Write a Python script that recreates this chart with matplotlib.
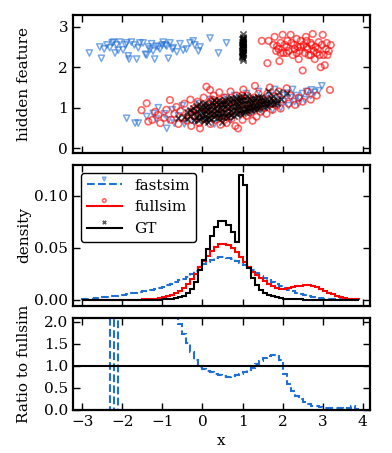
import numpy as np
import matplotlib
matplotlib.use("Agg")
import matplotlib.pyplot as plt

plt.rcParams["font.family"] = "serif"
plt.rcParams["font.serif"] = ["DejaVu Serif"]

BLUE = "#1f6fd6"

# histogram bins: -3.0 ... 3.9, width 0.1
edges = np.round(np.arange(-3.0, 3.95, 0.1), 2)

fastsim_density = [
    0.0005, 0.001, 0.001, 0.0015, 0.002, 0.002, 0.0025, 0.003, 0.0035, 0.004,
    0.0045, 0.005, 0.006, 0.0065, 0.007, 0.008, 0.009, 0.0095, 0.0105, 0.0115,
    0.0125, 0.014, 0.0155, 0.017, 0.0185, 0.02, 0.022, 0.025, 0.028, 0.031,
    0.034, 0.036, 0.038, 0.040, 0.041, 0.041, 0.040, 0.039, 0.037, 0.035,
    0.033, 0.031, 0.029, 0.026, 0.023, 0.021, 0.019, 0.017, 0.015, 0.013,
    0.011, 0.0095, 0.008, 0.0065, 0.005, 0.004, 0.003, 0.0025, 0.002, 0.0015,
    0.001, 0.0008, 0.0006, 0.0005, 0.0004, 0.0003, 0.0002, 0.0002, 0.0001,
]
fullsim_density = [
    0.0, 0.0, 0.0, 0.0, 0.0, 0.0, 0.0, 0.0, 0.0, 0.0,
    0.0, 0.0, 0.0, 0.0, 0.0, 0.0003, 0.0005, 0.0008, 0.001, 0.0015,
    0.002, 0.003, 0.0045, 0.006, 0.008, 0.011, 0.015, 0.02, 0.025, 0.031,
    0.037, 0.042, 0.047, 0.051, 0.054, 0.054, 0.053, 0.050, 0.046, 0.041,
    0.036, 0.031, 0.027, 0.024, 0.021, 0.018, 0.015, 0.013, 0.011, 0.0105,
    0.0105, 0.011, 0.012, 0.013, 0.0135, 0.014, 0.014, 0.0135, 0.012, 0.0105,
    0.0085, 0.0065, 0.005, 0.0035, 0.0025, 0.0015, 0.001, 0.0005, 0.0002,
]
gt_density = [
    0.0, 0.0, 0.0, 0.0, 0.0, 0.0, 0.0, 0.0, 0.0, 0.0,
    0.0, 0.0, 0.0, 0.0, 0.0, 0.0, 0.0, 0.0, 0.0, 0.0,
    0.0002, 0.0004, 0.0007, 0.0012, 0.002, 0.0035, 0.006, 0.01, 0.017, 0.029,
    0.038, 0.049, 0.061, 0.070, 0.076, 0.076, 0.072, 0.065, 0.056, 0.120,
    0.111, 0.030, 0.021, 0.014, 0.0095, 0.0065, 0.0045, 0.003, 0.002, 0.0012,
    0.0008, 0.0005, 0.0003, 0.0001, 0.0001, 0.0, 0.0, 0.0, 0.0, 0.0,
    0.0, 0.0, 0.0, 0.0, 0.0, 0.0, 0.0, 0.0, 0.0,
]
nan = np.nan
ratio_fast_full = [
    nan, nan, nan, nan, nan, nan, 0.0, 30.0, 0.0, 30.0,
    20.0, 15.0, 12.0, 10.0, 9.0, 8.0, 7.5, 6.5, 5.5, 4.5,
    4.0, 3.5, 3.0, 2.6, 1.95, 1.72, 1.52, 1.32, 1.12, 0.98,
    0.93, 0.89, 0.85, 0.81, 0.78, 0.76, 0.75, 0.76, 0.78, 0.81,
    0.85, 0.90, 0.96, 1.03, 1.10, 1.18, 1.23, 1.25, 1.24, 1.12,
    0.82, 0.58, 0.43, 0.32, 0.24, 0.18, 0.13, 0.10, 0.08, 0.06,
    0.05, 0.045, 0.04, 0.035, 0.035, 0.03, 0.04, 0.09, 0.03,
]

# hidden feature scatter (x, hidden)
fast_upper = np.array([
    (-2.82, 2.35), (-2.56, 2.5), (-2.52, 2.22), (-2.45, 2.45), (-2.38, 2.55),
    (-2.31, 2.48), (-2.25, 2.6), (-2.22, 2.62), (-2.18, 2.35), (-2.14, 2.55),
    (-2.1, 2.42), (-2.06, 2.62), (-1.98, 2.43), (-1.92, 2.55), (-1.89, 2.6),
    (-1.85, 2.28), (-1.83, 2.2), (-1.77, 2.62), (-1.7, 2.55), (-1.64, 2.2),
    (-1.6, 2.48), (-1.56, 2.6), (-1.48, 2.6), (-1.42, 2.32), (-1.39, 2.3),
    (-1.35, 2.5), (-1.3, 2.45), (-1.27, 2.58), (-1.23, 2.4), (-1.19, 2.2),
    (-1.15, 2.52), (-1.1, 2.5), (-1.06, 2.45), (-1.0, 2.55), (-0.98, 2.62),
    (-0.92, 2.55), (-0.89, 2.52), (-0.85, 2.22), (-0.81, 2.6), (-0.75, 2.45),
    (-0.73, 2.48), (-0.64, 2.38), (-0.56, 2.58), (-0.48, 2.42), (-0.4, 2.45),
    (-0.31, 2.6), (-0.23, 2.65), (-0.19, 2.55), (-0.1, 2.4), (-0.06, 2.5),
    (0.19, 2.72), (0.4, 2.35), (0.6, 2.6),
])
fast_lower = np.array([
    (-1.89, 0.74), (-1.68, 0.62), (-1.6, 0.62), (-1.39, 0.78), (-1.23, 0.86),
    (-1.15, 0.72), (-1.1, 1.0), (-0.95, 0.85), (-0.89, 0.49), (-0.85, 0.7),
    (-0.75, 0.95), (-0.7, 0.62), (-0.6, 0.8), (-0.5, 1.05), (-0.45, 0.6),
    (-0.3, 0.9), (-0.2, 0.65), (-0.1, 1.1), (0.0, 0.8), (0.1, 0.68),
    (0.2, 1.2), (0.3, 0.6), (0.45, 0.75), (0.6, 1.25), (0.7, 0.7),
    (0.8, 1.3), (0.95, 0.8), (1.1, 1.35), (1.2, 0.85), (1.3, 0.95),
    (1.4, 1.4), (1.5, 0.9), (1.6, 1.05), (1.7, 1.3), (1.75, 0.95),
    (1.8, 1.45), (1.85, 1.1), (1.9, 1.2), (1.95, 1.0), (2.0, 1.3),
    (2.05, 1.15), (2.1, 1.36), (2.15, 1.05), (2.2, 1.25), (2.25, 1.45),
    (2.3, 1.15), (2.35, 1.3), (2.43, 1.23), (2.5, 1.35), (2.55, 1.2),
    (2.6, 1.4), (2.7, 1.3), (2.72, 1.44), (2.8, 1.38), (2.9, 1.42),
    (2.98, 1.54), (1.55, 1.22), (1.25, 1.18), (2.4, 1.1),
])
full_upper = np.array([
    (1.48, 2.65), (1.65, 2.65), (1.62, 2.1), (1.77, 2.55), (1.8, 2.75),
    (1.84, 2.4), (1.86, 2.52), (1.9, 2.45), (1.92, 2.15), (1.95, 2.6),
    (2.0, 2.8), (2.02, 2.35), (2.05, 2.55), (2.1, 2.5), (2.12, 2.65),
    (2.15, 2.4), (2.2, 2.8), (2.22, 2.6), (2.25, 2.3), (2.28, 2.55),
    (2.3, 2.45), (2.35, 2.7), (2.38, 2.5), (2.4, 2.2), (2.42, 2.4),
    (2.45, 2.65), (2.5, 1.92), (2.52, 2.55), (2.55, 2.35), (2.58, 2.75),
    (2.6, 2.5), (2.62, 2.45), (2.65, 2.3), (2.7, 2.6), (2.72, 2.55),
    (2.75, 2.82), (2.78, 2.4), (2.8, 2.2), (2.82, 2.5), (2.85, 2.35),
    (2.9, 2.62), (2.92, 2.3), (2.95, 2.0), (2.98, 2.55), (3.0, 2.8),
    (3.02, 2.3), (3.05, 2.05), (3.08, 2.45), (3.1, 2.6), (3.15, 2.4),
    (3.2, 2.55), (2.35, 2.35), (2.6, 2.65), (2.7, 2.3), (2.1, 2.35),
    (1.95, 2.35), (2.45, 2.5), (2.88, 2.45), (3.12, 2.3),
])
full_lower = np.array([
    (-1.52, 0.94), (-1.39, 1.11), (-1.35, 0.66), (-1.25, 0.7), (-1.18, 0.9),
    (-1.1, 0.82), (-1.05, 0.62), (-0.95, 0.75), (-0.9, 0.95), (-0.81, 1.19),
    (-0.78, 0.7), (-0.7, 0.85), (-0.65, 1.02), (-0.6, 0.6), (-0.55, 0.92),
    (-0.5, 0.75), (-0.45, 1.1), (-0.4, 0.68), (-0.35, 0.88), (-0.3, 1.2),
    (-0.28, 0.55), (-0.22, 0.98), (-0.18, 0.78), (-0.12, 1.15), (-0.08, 0.62),
    (-0.06, 0.49), (-0.02, 0.9), (0.03, 1.25), (0.05, 0.72), (0.1, 1.52),
    (0.12, 0.85), (0.15, 1.05), (0.19, 1.44), (0.2, 0.6), (0.25, 0.95),
    (0.28, 1.3), (0.32, 0.7), (0.35, 1.12), (0.4, 0.82), (0.42, 1.38),
    (0.45, 0.58), (0.5, 1.0), (0.55, 1.25), (0.6, 0.62), (0.62, 0.88),
    (0.66, 1.15), (0.7, 1.4), (0.72, 0.72), (0.78, 1.05), (0.82, 0.55),
    (0.85, 1.3), (0.89, 0.49), (0.92, 0.9), (0.95, 1.2), (1.0, 0.7),
    (1.02, 1.45), (1.05, 1.0), (1.1, 0.8), (1.12, 1.3), (1.18, 0.95),
    (1.22, 1.15), (1.25, 0.68), (1.31, 1.54), (1.32, 1.05), (1.35, 0.78),
    (1.4, 1.35), (1.45, 0.9), (1.5, 1.2), (1.55, 1.0), (1.6, 0.85),
    (1.62, 1.35), (1.68, 1.5), (1.7, 1.1), (1.75, 0.95), (1.8, 1.28),
    (1.85, 1.05), (1.9, 1.4), (1.95, 0.98), (2.0, 1.2), (2.1, 1.48),
    (2.15, 1.1), (2.2, 1.3), (2.31, 1.07), (2.4, 1.25), (2.5, 1.15),
    (2.62, 1.4), (2.7, 1.2), (2.85, 1.3), (3.18, 1.44), (0.0, 1.0),
    (0.1, 0.95), (0.2, 1.15), (0.3, 0.88), (0.45, 1.2), (0.52, 0.8),
    (0.6, 1.05), (0.75, 0.92), (0.88, 1.12), (1.0, 0.95), (1.08, 1.22),
    (1.2, 0.88), (1.28, 1.25), (1.38, 1.0), (1.48, 1.1), (-0.15, 0.95),
    (-0.25, 0.82), (0.38, 1.0), (0.68, 0.78), (0.98, 1.3), (1.15, 1.05),
    (1.42, 1.2), (0.25, 1.2), (0.55, 0.7),
])
gt_column = np.array([
    (1.0, 2.22), (0.99, 2.28), (1.01, 2.32), (1.0, 2.36), (0.98, 2.4),
    (1.02, 2.42), (1.0, 2.45), (0.99, 2.48), (1.01, 2.5), (1.0, 2.52),
    (0.98, 2.55), (1.02, 2.57), (1.0, 2.6), (0.99, 2.62), (1.01, 2.65),
    (1.0, 2.68), (0.98, 2.7), (1.02, 2.72), (1.0, 2.75), (1.0, 2.82),
    (0.99, 2.3), (1.01, 2.38), (1.0, 2.43), (0.99, 2.53), (1.01, 2.58),
    (1.0, 2.63), (1.02, 2.47), (0.98, 2.35), (1.0, 2.5), (1.01, 2.7),
    (0.99, 2.25), (1.0, 2.18),
])
gt_cluster = np.array([
    (-0.45, 0.78), (-0.38, 0.9), (-0.38, 0.72), (-0.3, 0.8), (-0.31, 0.95),
    (-0.22, 0.7), (-0.2, 0.88), (-0.24, 1.0), (-0.15, 0.78), (-0.14, 0.93),
    (-0.16, 1.05), (-0.12, 0.7), (-0.08, 0.82), (-0.07, 0.98), (-0.06, 0.72),
    (-0.09, 1.08), (0.0, 0.76), (0.01, 0.87), (0.0, 0.97), (0.02, 1.1),
    (0.03, 0.68), (0.07, 0.8), (0.08, 0.92), (0.06, 1.02), (0.09, 0.72),
    (0.07, 1.12), (0.14, 0.84), (0.15, 0.95), (0.13, 1.05), (0.16, 0.75),
    (0.14, 0.66), (0.21, 0.82), (0.22, 0.93), (0.2, 1.04), (0.23, 1.14),
    (0.21, 0.72), (0.28, 0.86), (0.29, 0.97), (0.27, 1.07), (0.3, 0.76),
    (0.28, 1.18), (0.35, 0.84), (0.36, 0.95), (0.34, 1.05), (0.37, 0.74),
    (0.35, 1.15), (0.42, 0.88), (0.43, 0.99), (0.41, 1.09), (0.44, 0.78),
    (0.42, 1.2), (0.49, 0.86), (0.5, 0.97), (0.48, 1.08), (0.51, 0.76),
    (0.49, 1.17), (0.5, 0.66), (0.56, 0.9), (0.57, 1.01), (0.55, 1.1),
    (0.58, 0.8), (0.56, 1.2), (0.63, 0.88), (0.64, 1.0), (0.62, 1.1),
    (0.65, 0.78), (0.63, 1.22), (0.7, 0.92), (0.71, 1.03), (0.69, 1.13),
    (0.72, 0.82), (0.7, 1.24), (0.77, 0.9), (0.78, 1.01), (0.76, 1.12),
    (0.79, 0.8), (0.77, 1.22), (0.84, 0.94), (0.85, 1.05), (0.83, 1.15),
    (0.86, 0.84), (0.84, 1.25), (0.91, 0.95), (0.92, 1.07), (0.9, 1.17),
    (0.93, 0.86), (0.91, 1.27), (0.98, 0.97), (0.99, 1.08), (0.97, 1.18),
    (1.0, 0.88), (0.98, 1.28), (1.05, 0.98), (1.06, 1.09), (1.04, 1.19),
    (1.07, 0.9), (1.12, 1.0), (1.13, 1.1), (1.11, 1.2), (1.14, 0.92),
    (1.12, 1.3), (1.19, 1.02), (1.2, 1.12), (1.18, 1.22), (1.21, 0.94),
    (1.26, 1.03), (1.27, 1.14), (1.25, 1.24), (1.28, 0.96), (1.33, 1.05),
    (1.34, 1.15), (1.32, 1.25), (1.35, 0.98), (1.4, 1.06), (1.41, 1.16),
    (1.39, 1.26), (1.42, 1.0), (1.47, 1.08), (1.48, 1.18), (1.46, 1.27),
    (1.54, 1.1), (1.55, 1.2), (1.53, 1.02), (1.61, 1.12), (1.62, 1.22),
    (1.6, 1.05), (1.68, 1.14), (1.7, 1.25), (1.69, 1.08), (1.76, 1.17),
    (1.77, 1.28), (1.78, 1.1), (1.85, 1.2), (1.87, 1.12), (1.95, 1.22),
    (1.64, 1.42), (2.11, 1.36), (1.9, 1.38), (-0.6, 0.75),
])


def style_axes(ax):
    ax.tick_params(direction="in", top=True, right=True, length=5, width=1,
                   labelsize=11)
    for sp in ax.spines.values():
        sp.set_linewidth(1.6)
    ax.set_xlim(-3.23, 4.18)
    ax.set_xticks(range(-3, 5))


def main():
    fig = plt.figure(figsize=(3.92, 4.53), dpi=100)
    ax1 = fig.add_axes([0.186, 0.662, 0.758, 0.305])
    ax2 = fig.add_axes([0.186, 0.325, 0.758, 0.311])
    ax3 = fig.add_axes([0.186, 0.095, 0.758, 0.203])

    fast_pts = np.vstack([fast_upper, fast_lower])
    full_pts = np.vstack([full_upper, full_lower])
    gt_pts = np.vstack([gt_column, gt_cluster])

    sc_fast = ax1.scatter(fast_pts[:, 0], fast_pts[:, 1], marker="v", s=20,
                          facecolors="none", edgecolors=BLUE, linewidths=1.1,
                          alpha=0.6)
    sc_full = ax1.scatter(full_pts[:, 0], full_pts[:, 1], marker="o", s=22,
                          facecolors="none", edgecolors="red", linewidths=1.2,
                          alpha=0.6)
    sc_gt = ax1.scatter(gt_pts[:, 0], gt_pts[:, 1], marker="x", s=20,
                        color="black", linewidths=1.2, alpha=0.65)
    style_axes(ax1)
    ax1.set_ylim(-0.12, 3.29)
    ax1.set_yticks([0, 1, 2, 3])
    ax1.set_xticklabels([])
    ax1.set_ylabel("hidden feature", fontsize=11)
    ax1.yaxis.set_label_coords(-0.14, 0.5)

    ax2.stairs(fastsim_density, edges, color=BLUE, linestyle="--",
               linewidth=1.5)
    ax2.stairs(fullsim_density, edges, color="red", linewidth=1.5)
    ax2.stairs(gt_density, edges, color="black", linewidth=1.5)
    style_axes(ax2)
    ax2.set_ylim(-0.006, 0.13)
    ax2.set_yticks([0.0, 0.05, 0.10])
    ax2.set_yticklabels(["0.00", "0.05", "0.10"])
    ax2.set_xticklabels([])
    ax2.set_ylabel("density", fontsize=11)
    ax2.yaxis.set_label_coords(-0.14, 0.5)

    h_fast = plt.Line2D([], [], color=BLUE, linestyle="--", linewidth=1.5)
    h_full = plt.Line2D([], [], color="red", linewidth=1.5)
    h_gt = plt.Line2D([], [], color="black", linewidth=1.5)
    leg = ax2.legend([(sc_fast, h_fast), (sc_full, h_full), (sc_gt, h_gt)],
                     ["fastsim", "fullsim", "GT"], loc="upper left",
                     fontsize=11, scatterpoints=1, scatteryoffsets=[1.0],
                     markerscale=0.55, fancybox=True, framealpha=1,
                     edgecolor="black", handlelength=2.3)
    leg.get_frame().set_linewidth(1.0)

    ax3.stairs(ratio_fast_full, edges, color=BLUE, linestyle="--",
               linewidth=1.5, baseline=None)
    ax3.axhline(1.0, color="black", linewidth=1.5)
    style_axes(ax3)
    ax3.set_ylim(0, 2.08)
    ax3.set_yticks([0.0, 0.5, 1.0, 1.5, 2.0])
    ax3.set_ylabel("Ratio to fullsim", fontsize=11)
    ax3.yaxis.set_label_coords(-0.14, 0.5)
    ax3.set_xlabel("x", fontsize=11)

    fig.savefig("out.png", dpi=100)


if __name__ == "__main__":
    main()
